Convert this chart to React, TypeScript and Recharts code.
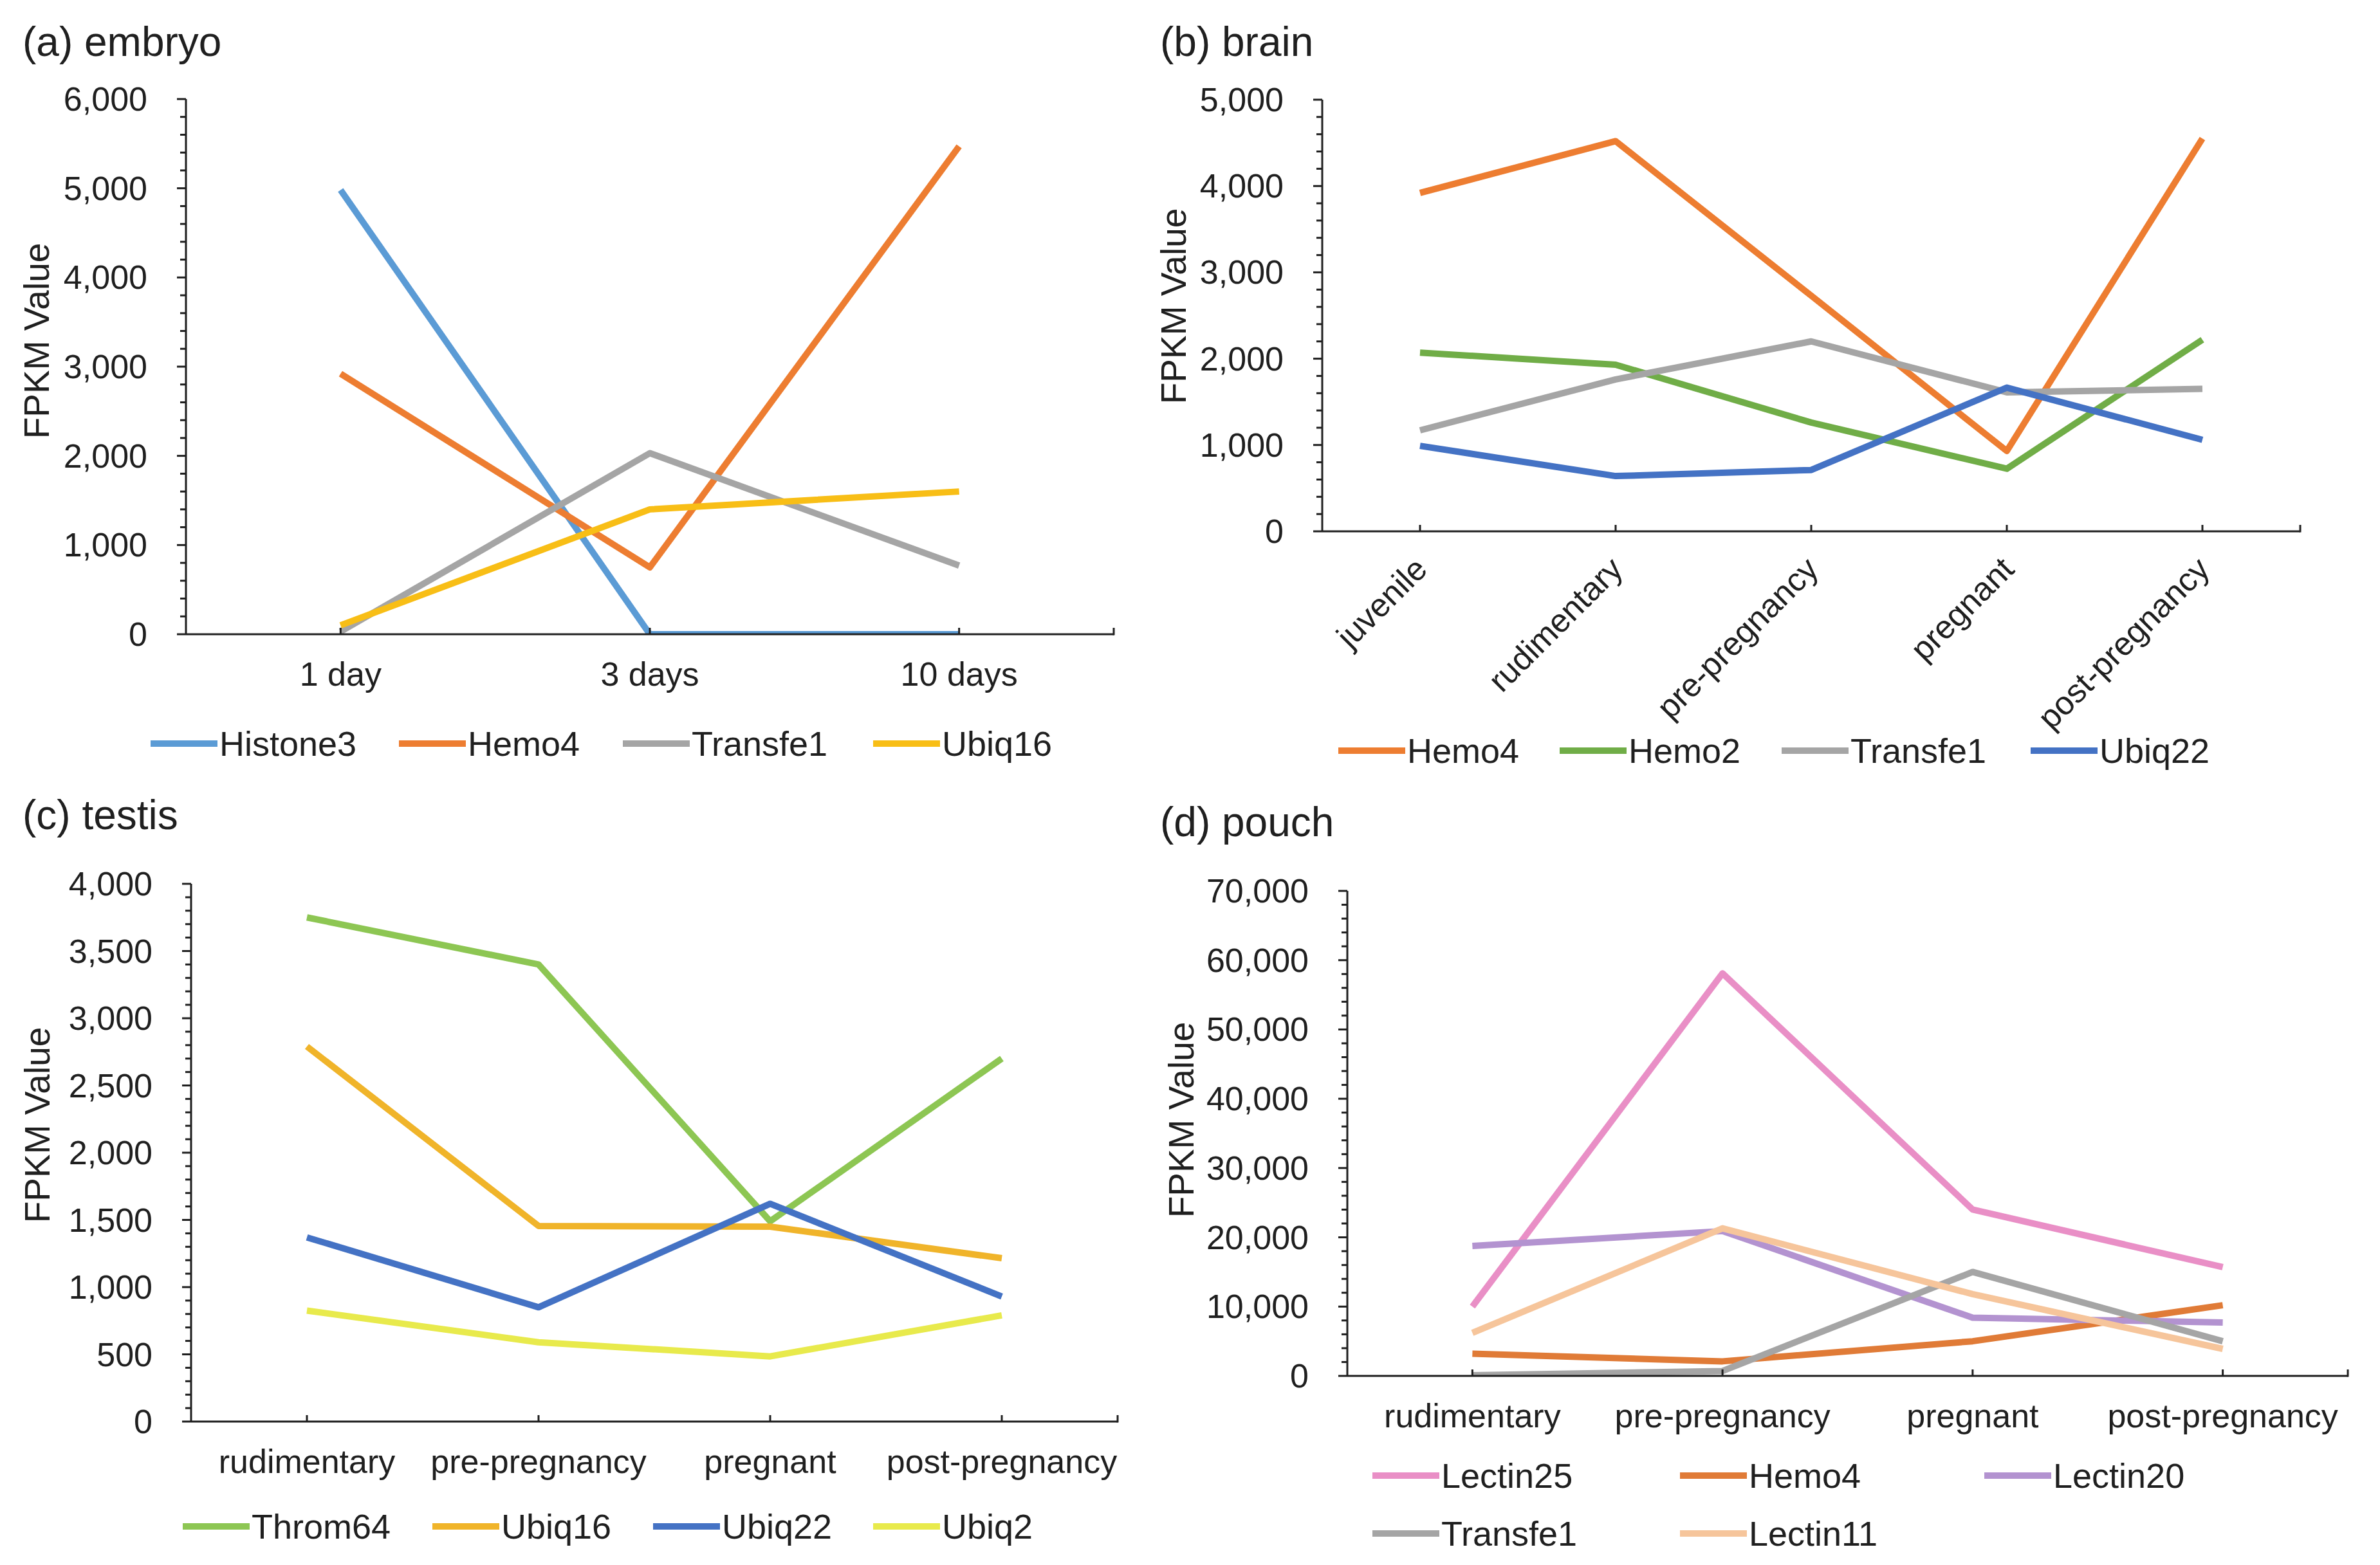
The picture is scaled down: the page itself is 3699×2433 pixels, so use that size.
import React from 'react';
import { LineChart, Line, XAxis, YAxis } from 'recharts';

const FONT = '"Liberation Sans", Arial, Helvetica, sans-serif';
const INK = '#1f1f1f';

// ---------- (a) embryo ----------
const embryoStages = ['1 day', '3 days', '10 days'];
const embryoHistone3 = [4980, 0, 0];
const embryoHemo4 = [2920, 750, 5470];
const embryoTransfe1 = [30, 2030, 770];
const embryoUbiq16 = [100, 1400, 1600];
const embryoYTicks = [0, 1000, 2000, 3000, 4000, 5000, 6000];

// ---------- (b) brain ----------
const brainStages = ['juvenile', 'rudimentary', 'pre-pregnancy', 'pregnant', 'post-pregnancy'];
const brainHemo4 = [3920, 4520, 2730, 930, 4550];
const brainHemo2 = [2070, 1930, 1260, 725, 2220];
const brainTransfe1 = [1170, 1760, 2200, 1610, 1650];
const brainUbiq22 = [990, 640, 710, 1665, 1060];
const brainYTicks = [0, 1000, 2000, 3000, 4000, 5000];

// ---------- (c) testis ----------
const testisStages = ['rudimentary', 'pre-pregnancy', 'pregnant', 'post-pregnancy'];
const testisThrom64 = [3750, 3400, 1490, 2700];
const testisUbiq16 = [2790, 1455, 1450, 1215];
const testisUbiq22 = [1370, 850, 1620, 930];
const testisUbiq2 = [825, 590, 485, 790];
const testisYTicks = [0, 500, 1000, 1500, 2000, 2500, 3000, 3500, 4000];

// ---------- (d) pouch ----------
const pouchStages = ['rudimentary', 'pre-pregnancy', 'pregnant', 'post-pregnancy'];
const pouchLectin25 = [10000, 58100, 24000, 15700];
const pouchHemo4 = [3200, 2100, 5000, 10200];
const pouchLectin20 = [18750, 20900, 8400, 7700];
const pouchTransfe1 = [100, 700, 15000, 5000];
const pouchLectin11 = [6200, 21300, 11800, 3900];
const pouchYTicks = [0, 10000, 20000, 30000, 40000, 50000, 60000, 70000];

type Series = { name: string; values: number[]; color: string };
type LegendPos = { x: number; y: number };

type PanelCfg = {
  key: string;
  title: string;
  titlePos: { x: number; y: number };
  ylabelPos: { x: number; y: number };
  box: { left: number; top: number; width: number; height: number };
  axisX: number;
  axisY: number;
  plotTop: number;
  plotRight: number;
  categories: string[];
  series: Series[];
  majors: number[];
  minorStep: number;
  rotate?: boolean;
  legend: LegendPos[];
};

const panels: PanelCfg[] = [
  {
    key: 'a',
    title: '(a) embryo',
    titlePos: { x: 35, y: 65 },
    ylabelPos: { x: 57, y: 530 },
    box: { left: 0, top: 0, width: 1790, height: 1215 },
    axisX: 289,
    axisY: 986,
    plotTop: 154,
    plotRight: 1731,
    categories: embryoStages,
    series: [
      { name: 'Histone3', values: embryoHistone3, color: '#5B9BD5' },
      { name: 'Hemo4', values: embryoHemo4, color: '#ED7D31' },
      { name: 'Transfe1', values: embryoTransfe1, color: '#A5A5A5' },
      { name: 'Ubiq16', values: embryoUbiq16, color: '#F8BE16' },
    ],
    majors: embryoYTicks,
    minorStep: 200,
    legend: [
      { x: 234, y: 1156 },
      { x: 620, y: 1156 },
      { x: 968, y: 1156 },
      { x: 1357, y: 1156 },
    ],
  },
  {
    key: 'b',
    title: '(b) brain',
    titlePos: { x: 1803, y: 65 },
    ylabelPos: { x: 1824, y: 476 },
    box: { left: 1790, top: 0, width: 1909, height: 1215 },
    axisX: 2055,
    axisY: 826,
    plotTop: 155,
    plotRight: 3575,
    categories: brainStages,
    series: [
      { name: 'Hemo4', values: brainHemo4, color: '#ED7D31' },
      { name: 'Hemo2', values: brainHemo2, color: '#70AD47' },
      { name: 'Transfe1', values: brainTransfe1, color: '#A5A5A5' },
      { name: 'Ubiq22', values: brainUbiq22, color: '#4472C4' },
    ],
    majors: brainYTicks,
    minorStep: 200,
    rotate: true,
    legend: [
      { x: 2080, y: 1167 },
      { x: 2424, y: 1167 },
      { x: 2769, y: 1167 },
      { x: 3156, y: 1167 },
    ],
  },
  {
    key: 'c',
    title: '(c) testis',
    titlePos: { x: 35, y: 1267 },
    ylabelPos: { x: 58, y: 1749 },
    box: { left: 0, top: 1215, width: 1790, height: 1218 },
    axisX: 297,
    axisY: 2210,
    plotTop: 1374,
    plotRight: 1737,
    categories: testisStages,
    series: [
      { name: 'Throm64', values: testisThrom64, color: '#8DC653' },
      { name: 'Ubiq16', values: testisUbiq16, color: '#F0B42A' },
      { name: 'Ubiq22', values: testisUbiq22, color: '#4472C4' },
      { name: 'Ubiq2', values: testisUbiq2, color: '#E8EA4C' },
    ],
    majors: testisYTicks,
    minorStep: 100,
    legend: [
      { x: 284, y: 2373 },
      { x: 672, y: 2373 },
      { x: 1015, y: 2373 },
      { x: 1357, y: 2373 },
    ],
  },
  {
    key: 'd',
    title: '(d) pouch',
    titlePos: { x: 1803, y: 1278 },
    ylabelPos: { x: 1836, y: 1741 },
    box: { left: 1790, top: 1215, width: 1909, height: 1218 },
    axisX: 2094,
    axisY: 2139,
    plotTop: 1385,
    plotRight: 3649,
    categories: pouchStages,
    series: [
      { name: 'Lectin25', values: pouchLectin25, color: '#E98FC6' },
      { name: 'Hemo4', values: pouchHemo4, color: '#E07B37' },
      { name: 'Lectin20', values: pouchLectin20, color: '#B393D0' },
      { name: 'Transfe1', values: pouchTransfe1, color: '#A5A5A5' },
      { name: 'Lectin11', values: pouchLectin11, color: '#F6C59B' },
    ],
    majors: pouchYTicks,
    minorStep: 2000,
    legend: [
      { x: 2133, y: 2294 },
      { x: 2611, y: 2294 },
      { x: 3084, y: 2294 },
      { x: 2133, y: 2384 },
      { x: 2611, y: 2384 },
    ],
  },
];

const fmt = (v: number) => v.toLocaleString('en-US');

function Panel({ cfg }: { cfg: PanelCfg }) {
  const { box, axisX, axisY, plotTop, plotRight, categories, series, majors, minorStep } = cfg;
  const data = categories.map((c, i) => {
    const row: Record<string, string | number> = { stage: c };
    series.forEach((s) => {
      row[s.name] = s.values[i];
    });
    return row;
  });
  const yMax = majors[majors.length - 1];
  const allTicks: number[] = [];
  for (let v = 0; v <= yMax + 1e-6; v += minorStep) allTicks.push(v);
  const halfBand = (plotRight - axisX) / (categories.length * 2);
  const lastCat = categories[categories.length - 1];

  const XTick = (p: any) => {
    const { x, y, payload } = p;
    const isLast = payload.value === lastCat;
    return (
      <g>
        <line x1={x} y1={y} x2={x} y2={y - 10} stroke={INK} strokeWidth={3} />
        {isLast && (
          <line x1={x + halfBand} y1={y + 1.5} x2={x + halfBand} y2={y - 10} stroke={INK} strokeWidth={3} />
        )}
        {cfg.rotate ? (
          <text
            x={x + 14}
            y={y + 62}
            transform={`rotate(-45, ${x + 14}, ${y + 62})`}
            textAnchor="end"
            fontSize={51}
            fontFamily={FONT}
            fill={INK}
          >
            {payload.value}
          </text>
        ) : (
          <text
            x={x}
            y={y + 62}
            textAnchor="middle"
            dominantBaseline="central"
            fontSize={52}
            fontFamily={FONT}
            fill={INK}
          >
            {payload.value}
          </text>
        )}
      </g>
    );
  };

  const YTick = (p: any) => {
    const { x, y, payload } = p;
    const major = majors.includes(payload.value);
    return (
      <g>
        <line x1={x - (major ? 14 : 9)} y1={y} x2={x} y2={y} stroke={INK} strokeWidth={3} />
        {major && (
          <text
            x={x - 60}
            y={y}
            textAnchor="end"
            dominantBaseline="central"
            fontSize={52}
            fontFamily={FONT}
            fill={INK}
          >
            {fmt(payload.value)}
          </text>
        )}
      </g>
    );
  };

  return (
    <div style={{ position: 'absolute', left: box.left, top: box.top, width: box.width, height: box.height }}>
      <LineChart
        width={box.width}
        height={box.height}
        data={data}
        margin={{ top: plotTop - box.top, right: box.left + box.width - plotRight, left: 0, bottom: 0 }}
      >
        <XAxis
          dataKey="stage"
          type="category"
          height={box.top + box.height - axisY}
          padding={{ left: halfBand, right: halfBand }}
          axisLine={{ stroke: INK, strokeWidth: 3 }}
          tickLine={false}
          tickSize={0}
          tickMargin={0}
          interval={0}
          tick={XTick}
        />
        <YAxis
          type="number"
          domain={[0, yMax]}
          ticks={allTicks}
          interval={0}
          width={axisX - box.left}
          axisLine={{ stroke: INK, strokeWidth: 3 }}
          tickLine={false}
          tickSize={0}
          tickMargin={0}
          tick={YTick}
          allowDataOverflow
        />
        {series.map((s) => (
          <Line
            key={s.name}
            type="linear"
            dataKey={s.name}
            stroke={s.color}
            strokeWidth={10}
            strokeLinejoin="round"
            dot={false}
            activeDot={false}
            isAnimationActive={false}
          />
        ))}
      </LineChart>
    </div>
  );
}

function Overlay({ cfg }: { cfg: PanelCfg }) {
  return (
    <>
      <div
        style={{
          position: 'absolute',
          left: cfg.titlePos.x,
          top: cfg.titlePos.y,
          transform: 'translateY(-50%)',
          fontSize: 64,
          fontFamily: FONT,
          color: INK,
          whiteSpace: 'nowrap',
          lineHeight: 1,
        }}
      >
        {cfg.title}
      </div>
      <div
        style={{
          position: 'absolute',
          left: cfg.ylabelPos.x,
          top: cfg.ylabelPos.y,
          transform: 'translate(-50%, -50%) rotate(-90deg)',
          fontSize: 55,
          fontFamily: FONT,
          color: INK,
          whiteSpace: 'nowrap',
          lineHeight: 1,
        }}
      >
        FPKM Value
      </div>
      {cfg.series.map((s, i) => {
        const pos = cfg.legend[i];
        return (
          <div
            key={s.name}
            style={{
              position: 'absolute',
              left: pos.x,
              top: pos.y,
              transform: 'translateY(-50%)',
              display: 'flex',
              alignItems: 'center',
              whiteSpace: 'nowrap',
            }}
          >
            <span style={{ display: 'inline-block', width: 104, height: 10, background: s.color }} />
            <span style={{ fontSize: 54, fontFamily: FONT, color: INK, marginLeft: 3, lineHeight: 1 }}>{s.name}</span>
          </div>
        );
      })}
    </>
  );
}

export default function App() {
  return (
    <div
      style={{
        position: 'absolute',
        left: 0,
        top: 0,
        width: 3699,
        height: 2433,
        background: '#ffffff',
        overflow: 'hidden',
        fontFamily: FONT,
      }}
    >
      {panels.map((p) => (
        <Panel key={p.key} cfg={p} />
      ))}
      {panels.map((p) => (
        <Overlay key={'o' + p.key} cfg={p} />
      ))}
    </div>
  );
}
